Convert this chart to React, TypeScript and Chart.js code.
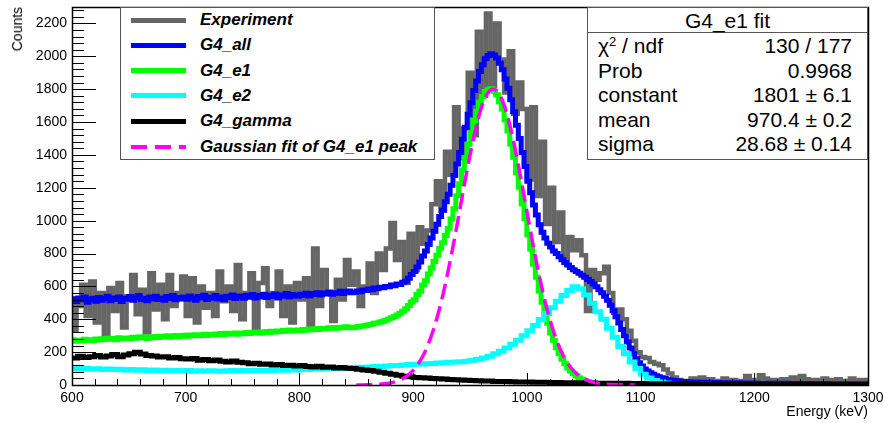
import React, { useEffect, useRef } from 'react';
import { Chart, registerables } from 'chart.js';

Chart.register(...registerables);

const FONT = '"Liberation Sans", Arial, Helvetica, sans-serif';

// ---- axis ranges / ticks ----
const X_MIN = 600;
const X_MAX = 1300;
const Y_MIN = 0;
const Y_MAX = 2300;
const X_MAJOR = 100;
const X_MINOR = 20;
const Y_MAJOR = 200;
const Y_MINOR = 40;

// ---- histogram binning ----
const HIST_START = 600;
const EXP_BIN = 4; // keV
const ALL_BIN = 2.5; // keV
const E1_BIN = 2.5; // keV
const E2_BIN = 5; // keV
const GAMMA_BIN = 5; // keV

// Experiment (4 keV bins, 600-1300)
const experiment = [
  540, 330, 480, 610, 420,
  630, 380, 560, 300, 590,
  450, 620, 350, 540, 670,
  430, 580, 320, 680, 460,
  610, 400, 670, 480, 560,
  660, 420, 650, 380, 600,
  470, 560, 420, 690, 510,
  600, 450, 730, 400, 560,
  680, 340, 620, 710, 480,
  560, 690, 420, 600, 380,
  620, 520, 650, 360, 830,
  480, 700, 560, 390, 640,
  520, 760, 610, 690, 480,
  600, 740, 560, 800, 700,
  830, 985, 760, 870, 620,
  920, 700, 960, 860, 940,
  1100, 1240, 1060, 1420, 1280,
  1690, 1380, 1560, 1900, 1520,
  2150, 1760, 2260, 1820, 2200,
  1980, 1780, 2030, 1650, 1840,
  1680, 1250, 1690, 1150, 1480,
  980, 1200, 870, 1050, 760,
  900, 820, 880, 790, 450,
  700, 640, 680, 720, 560,
  440, 460, 400, 330, 270,
  200, 170, 165, 140, 130,
  120, 95, 70, 45, 30,
  25, 20, 40, 30, 45,
  20, 35, 15, 25, 40,
  20, 30, 15, 25, 55,
  30, 20, 60, 40, 25,
  30, 15, 35, 20, 45,
  20, 55, 35, 20, 30,
  15, 40, 30, 20, 35,
  15, 25, 40, 20, 30,
];

// G4_all (2.5 keV bins)
const g4All = [
  512, 525, 508, 530, 518, 535, 504, 522, 528, 510,
  532, 516, 526, 540, 512, 530, 520, 536, 508, 528,
  522, 538, 515, 530, 545, 518, 528, 512, 535, 524,
  540, 520, 530, 516, 538, 526, 544, 518, 532, 524,
  536, 522, 542, 528, 516, 538, 530, 546, 520, 534,
  528, 544, 524, 536, 518, 540, 532, 548, 526, 538,
  542, 528, 546, 534, 550, 530, 544, 536, 552, 532,
  546, 538, 554, 530, 548, 540, 556, 536, 550, 544,
  540, 552, 546, 558, 542, 556, 550, 562, 548, 560,
  554, 566, 552, 562, 558, 570, 556, 566, 572, 562,
  565, 572, 568, 578, 575, 584, 580, 590, 586, 595,
  592, 600, 598, 608, 604, 615, 612, 625, 632, 650,
  672, 690, 718, 748, 785, 815, 855, 895, 935, 978,
  1025, 1065, 1115, 1160, 1215, 1275, 1345, 1415, 1495, 1568,
  1648, 1718, 1792, 1850, 1908, 1948, 1985, 2005, 2015, 2008,
  1990, 1958, 1918, 1862, 1805, 1735, 1662, 1580, 1500, 1415,
  1330, 1240, 1170, 1095, 1035, 975, 930, 895, 862, 840,
  815, 800, 780, 762, 745, 730, 715, 702, 690, 680,
  668, 655, 642, 630, 615, 598, 580, 562, 540, 515,
  485, 452, 415, 378, 338, 300, 262, 225, 190, 160,
  135, 115, 98, 85, 74, 65, 57, 50, 44, 39,
  35, 31, 28, 26, 24, 22, 21, 20, 19, 18,
  18, 17, 17, 16, 16, 16, 15, 15, 15, 14,
  14, 14, 13, 13, 13, 13, 12, 12, 12, 12,
  12, 11, 11, 11, 11, 11, 10, 10, 10, 10,
  10, 10, 10, 9, 9, 9, 9, 9, 9, 9,
  9, 9, 8, 8, 8, 8, 8, 8, 8, 8,
  8, 8, 8, 8, 7, 7, 7, 7, 7, 7,
];

// G4_e1 (2.5 keV bins)
const g4E1 = [
  270, 275, 266, 273, 268, 278, 271, 276, 269, 280,
  274, 282, 277, 285, 279, 283, 276, 288, 281, 284,
  286, 281, 290, 284, 292, 287, 294, 283, 291, 288,
  295, 289, 297, 292, 299, 290, 296, 301, 294, 298,
  302, 296, 304, 299, 306, 300, 303, 309, 301, 307,
  304, 311, 306, 313, 308, 315, 310, 312, 317, 309,
  316, 312, 319, 314, 321, 317, 323, 315, 322, 326,
  320, 327, 323, 329, 325, 331, 327, 334, 328, 332,
  335, 330, 337, 333, 340, 336, 342, 338, 344, 340,
  343, 348, 345, 350, 346, 352, 348, 355, 351, 349,
  350, 354, 357, 359, 362, 367, 370, 375, 378, 383,
  388, 394, 401, 409, 417, 426, 436, 449, 464, 484,
  505, 518, 550, 570, 608, 635, 676, 712, 752, 790,
  832, 865, 910, 952, 1010, 1072, 1152, 1225, 1308, 1384,
  1465, 1535, 1610, 1664, 1720, 1755, 1786, 1797, 1802, 1787,
  1766, 1724, 1679, 1613, 1548, 1465, 1386, 1290, 1203, 1102,
  1012, 913, 827, 734, 655, 572, 504, 433, 376, 317,
  272, 226, 191, 156, 130, 104, 85, 68, 55, 43,
  34, 26, 20, 16, 12, 9, 7, 5, 4, 3,
  2, 1, 1, 1, 1, 0, 0, 0, 0, 0,
  0, 0, 0, 0, 0, 0, 0, 0, 0, 0,
  0, 0, 0, 0, 0, 0, 0, 0, 0, 0,
  0, 0, 0, 0, 0, 0, 0, 0, 0, 0,
  0, 0, 0, 0, 0, 0, 0, 0, 0, 0,
  0, 0, 0, 0, 0, 0, 0, 0, 0, 0,
  0, 0, 0, 0, 0, 0, 0, 0, 0, 0,
  0, 0, 0, 0, 0, 0, 0, 0, 0, 0,
  0, 0, 0, 0, 0, 0, 0, 0, 0, 0,
];

// G4_e2 (5 keV bins)
const g4E2 = [
  104, 100, 98, 102, 96, 99, 95, 97, 94, 96,
  92, 95, 90, 93, 88, 91, 87, 90, 86, 88,
  85, 88, 84, 86, 83, 87, 85, 84, 86, 88,
  85, 88, 86, 90, 87, 89, 88, 91, 90, 93,
  92, 95, 94, 97, 96, 99, 100, 102, 101, 104,
  105, 108, 107, 110, 112, 113, 115, 118, 119, 122,
  124, 126, 128, 130, 131, 134, 135, 138, 140, 142,
  145, 150, 156, 165, 175, 190, 205, 225, 248, 272,
  300, 330, 362, 398, 435, 470, 510, 545, 575, 598,
  585, 548, 498, 445, 400, 345, 290, 235, 190, 140,
  100, 65, 42, 28, 18, 12, 8, 6, 5, 5,
  4, 4, 4, 3, 3, 3, 3, 3, 3, 3,
  3, 3, 2, 2, 2, 2, 2, 2, 2, 2,
  2, 2, 2, 1, 1, 1, 1, 1, 1, 1,
];

// G4_gamma (5 keV bins)
const g4Gamma = [
  170, 165, 175, 168, 172, 180, 170, 176, 185, 172,
  182, 190, 200, 188, 180, 176, 170, 172, 165, 168,
  160, 158, 162, 150, 155, 148, 152, 145, 140, 146,
  138, 135, 130, 132, 126, 128, 122, 125, 118, 120,
  116, 118, 112, 110, 114, 108, 110, 104, 106, 102,
  100, 96, 92, 88, 84, 78, 72, 66, 60, 54,
  50, 46, 44, 42, 40, 38, 36, 34, 32, 30,
  29, 27, 26, 25, 24, 22, 22, 21, 20, 19,
  18, 18, 17, 16, 16, 15, 15, 14, 14, 13,
  13, 12, 12, 11, 11, 11, 10, 10, 10, 9,
  9, 9, 8, 8, 8, 8, 7, 7, 7, 7,
  7, 6, 6, 6, 6, 6, 6, 5, 5, 5,
  5, 5, 5, 5, 5, 4, 4, 4, 4, 4,
  4, 4, 4, 4, 3, 3, 3, 3, 3, 3,
];

// Gaussian fit of G4_e1 peak (sampled curve)
const fitEnergies = [
  850, 855, 860, 865, 870, 875, 880, 885, 890, 895,
  900, 905, 910, 915, 920, 925, 930, 935, 940, 945,
  950, 955, 960, 965, 970, 975, 980, 985, 990, 995,
  1000, 1005, 1010, 1015, 1020, 1025, 1030, 1035, 1040, 1045,
  1050, 1055, 1060, 1065, 1070, 1075, 1080, 1085, 1090, 1095,
];
const fitValues = [
  0.3, 0.5, 1.1, 2.1, 3.9, 7.1, 12.5, 21.4, 35.4, 56.8,
  88.5, 133.8, 196, 278.8, 384.5, 514.6, 667.9, 840.7, 1026.8, 1217,
  1398.5, 1559, 1686.5, 1769.3, 1800.8, 1778, 1702.8, 1582, 1426, 1246.7,
  1057.4, 869.9, 694.3, 537.5, 403.7, 294.2, 207.9, 142.5, 94.8, 61.2,
  38.3, 23.2, 13.7, 7.8, 4.3, 2.3, 1.2, 0.6, 0.3, 0.15,
];

const seriesNames = ['Experiment', 'G4_all', 'G4_e1', 'G4_e2', 'G4_gamma', 'Gaussian fit of G4_e1 peak'];
const seriesColors = ['#666666', '#0000ff', '#00ff00', '#00ffff', '#000000', '#ff00ff'];
const seriesWidths = [4.5, 5, 5, 5, 5, 3.5];
const legendWidths = [5, 5, 5, 5, 5, 4];

const statsTitle = 'G4_e1 fit';
const statsLabels = ['χ2 / ndf', 'Prob', 'constant', 'mean', 'sigma'];
const statsValues = ['130 / 177', '0.9968', '1801 ± 6.1', '970.4 ± 0.2', '28.68 ± 0.14'];

const xTitle = 'Energy (keV)';
const yTitle = 'Counts';

function histPoints(values: number[], start: number, width: number) {
  const pts = values.map((y, i) => ({ x: start + i * width, y }));
  pts.push({ x: start + values.length * width, y: values[values.length - 1] });
  return pts;
}

const rootAxes = {
  id: 'rootAxes',
  afterDatasetsDraw(chart: any) {
    const { ctx, chartArea: a, scales } = chart;
    const xs = scales.x;
    const ys = scales.y;
    ctx.save();
    ctx.strokeStyle = '#000';
    ctx.lineWidth = 1;
    ctx.beginPath();
    for (let v = X_MIN; v <= X_MAX; v += X_MINOR) {
      const px = Math.round(xs.getPixelForValue(v)) + 0.5;
      const len = v % X_MAJOR === 0 ? 12 : 6;
      ctx.moveTo(px, a.bottom);
      ctx.lineTo(px, a.bottom - len);
    }
    for (let v = Y_MIN; v <= Y_MAX; v += Y_MINOR) {
      const py = Math.round(ys.getPixelForValue(v)) + 0.5;
      const len = v % Y_MAJOR === 0 ? 24 : 12;
      ctx.moveTo(a.left, py);
      ctx.lineTo(a.left + len, py);
    }
    ctx.stroke();
    ctx.lineWidth = 1.5;
    ctx.strokeRect(Math.round(a.left) + 0.5, Math.round(a.top) + 0.5, Math.round(a.right - a.left), Math.round(a.bottom - a.top));
    ctx.restore();
  },
};

export default function App() {
  const ref = useRef<HTMLCanvasElement>(null);

  useEffect(() => {
    if (!ref.current) return;
    const histStyle = (i: number, order: number) => ({
      label: seriesNames[i],
      borderColor: seriesColors[i],
      backgroundColor: seriesColors[i],
      borderWidth: seriesWidths[i],
      stepped: 'after' as const,
      pointRadius: 0,
      fill: false,
      borderJoinStyle: 'miter' as const,
      borderCapStyle: 'butt' as const,
      order,
    });
    const chart = new Chart(ref.current, {
      type: 'line',
      data: {
        datasets: [
          { ...histStyle(0, 5), data: histPoints(experiment, HIST_START, EXP_BIN) },
          { ...histStyle(1, 4), data: histPoints(g4All, HIST_START, ALL_BIN) },
          { ...histStyle(2, 3), data: histPoints(g4E1, HIST_START, E1_BIN) },
          { ...histStyle(3, 2), data: histPoints(g4E2, HIST_START, E2_BIN) },
          { ...histStyle(4, 1), data: histPoints(g4Gamma, HIST_START, GAMMA_BIN) },
          {
            label: seriesNames[5],
            borderColor: seriesColors[5],
            borderWidth: seriesWidths[5],
            borderDash: [16, 7],
            pointRadius: 0,
            fill: false,
            cubicInterpolationMode: 'monotone',
            order: 0,
            data: fitEnergies.map((x, i) => ({ x, y: fitValues[i] })),
          },
        ] as any,
      },
      options: {
        animation: false,
        responsive: false,
        maintainAspectRatio: false,
        events: [],
        layout: { padding: { left: 0, right: 15, top: 7, bottom: 0 } },
        plugins: { legend: { display: false }, tooltip: { enabled: false } },
        scales: {
          x: {
            type: 'linear',
            min: X_MIN,
            max: X_MAX,
            grid: { display: false, drawTicks: false },
            border: { display: false },
            ticks: {
              stepSize: X_MAJOR,
              autoSkip: false,
              maxRotation: 0,
              minRotation: 0,
              padding: 5,
              color: '#000',
              font: { family: FONT, size: 14 },
              callback: (v: any) => String(v),
            },
            afterFit: (s: any) => {
              s.height = 38;
              s.paddingLeft = 0;
              s.paddingRight = 0;
            },
          },
          y: {
            type: 'linear',
            min: Y_MIN,
            max: Y_MAX,
            grid: { display: false, drawTicks: false },
            border: { display: false },
            ticks: {
              stepSize: Y_MAJOR,
              includeBounds: false,
              padding: 5,
              color: '#000',
              font: { family: FONT, size: 14 },
              callback: (v: any) => String(v),
            },
            afterFit: (s: any) => {
              s.width = 72;
              s.paddingTop = 0;
              s.paddingBottom = 0;
            },
          },
        },
      } as any,
      plugins: [rootAxes],
    });
    return () => chart.destroy();
  }, []);

  const rowCenters = [12, 37.3, 62.6, 87.9, 113.2, 138.5];

  return (
    <div style={{ position: 'absolute', left: 0, top: 0, width: 883, height: 423, background: '#fff', fontFamily: FONT, color: '#000' }}>
      <canvas ref={ref} width={883} height={423} style={{ position: 'absolute', left: 0, top: 0 }} />

      {/* y title */}
      <div style={{ position: 'absolute', left: 9, top: 7, writingMode: 'vertical-rl', transform: 'rotate(180deg)', fontSize: 14, lineHeight: '16px', whiteSpace: 'nowrap' }}>
        {yTitle}
      </div>
      {/* x title */}
      <div style={{ position: 'absolute', right: 15, top: 403, fontSize: 14, lineHeight: '16px', whiteSpace: 'nowrap' }}>
        {xTitle}
      </div>

      {/* legend */}
      <div style={{ position: 'absolute', left: 120, top: 7, width: 315, height: 153, boxSizing: 'border-box', border: '1px solid #555', background: '#fff' }}>
        {seriesNames.map((name, i) => (
          <React.Fragment key={name}>
            <div
              style={{
                position: 'absolute',
                left: 10,
                top: rowCenters[i] - legendWidths[i] / 2,
                width: 55,
                height: legendWidths[i],
                background:
                  i === 5
                    ? `repeating-linear-gradient(to right, ${seriesColors[i]} 0px, ${seriesColors[i]} 16px, transparent 16px, transparent 24px)`
                    : seriesColors[i],
              }}
            />
            <div
              style={{
                position: 'absolute',
                left: 79,
                top: rowCenters[i] - 11,
                height: 22,
                lineHeight: '22px',
                fontSize: 17,
                fontWeight: 'bold',
                fontStyle: 'italic',
                whiteSpace: 'nowrap',
              }}
            >
              {name}
            </div>
          </React.Fragment>
        ))}
      </div>

      {/* stats box */}
      <div style={{ position: 'absolute', left: 587, top: 7, width: 281, height: 153, boxSizing: 'border-box', border: '1px solid #555', background: '#fff', fontSize: 21 }}>
        <div style={{ position: 'absolute', left: 0, top: 0, width: '100%', height: 25, lineHeight: '25px', textAlign: 'center', borderBottom: '1px solid #555', boxSizing: 'border-box' }}>
          {statsTitle}
        </div>
        {statsLabels.map((lab, i) => (
          <React.Fragment key={lab}>
            <div style={{ position: 'absolute', left: 10, top: 26 + i * 24.6, height: 24, lineHeight: '24px', whiteSpace: 'nowrap' }}>
              {i === 0 ? (
                <span>
                  χ<sup style={{ fontSize: 13, verticalAlign: 'top', lineHeight: '16px' }}>2</sup> / ndf
                </span>
              ) : (
                lab
              )}
            </div>
            <div style={{ position: 'absolute', right: 15, top: 26 + i * 24.6, height: 24, lineHeight: '24px', whiteSpace: 'nowrap', textAlign: 'right' }}>
              {statsValues[i]}
            </div>
          </React.Fragment>
        ))}
      </div>
    </div>
  );
}
